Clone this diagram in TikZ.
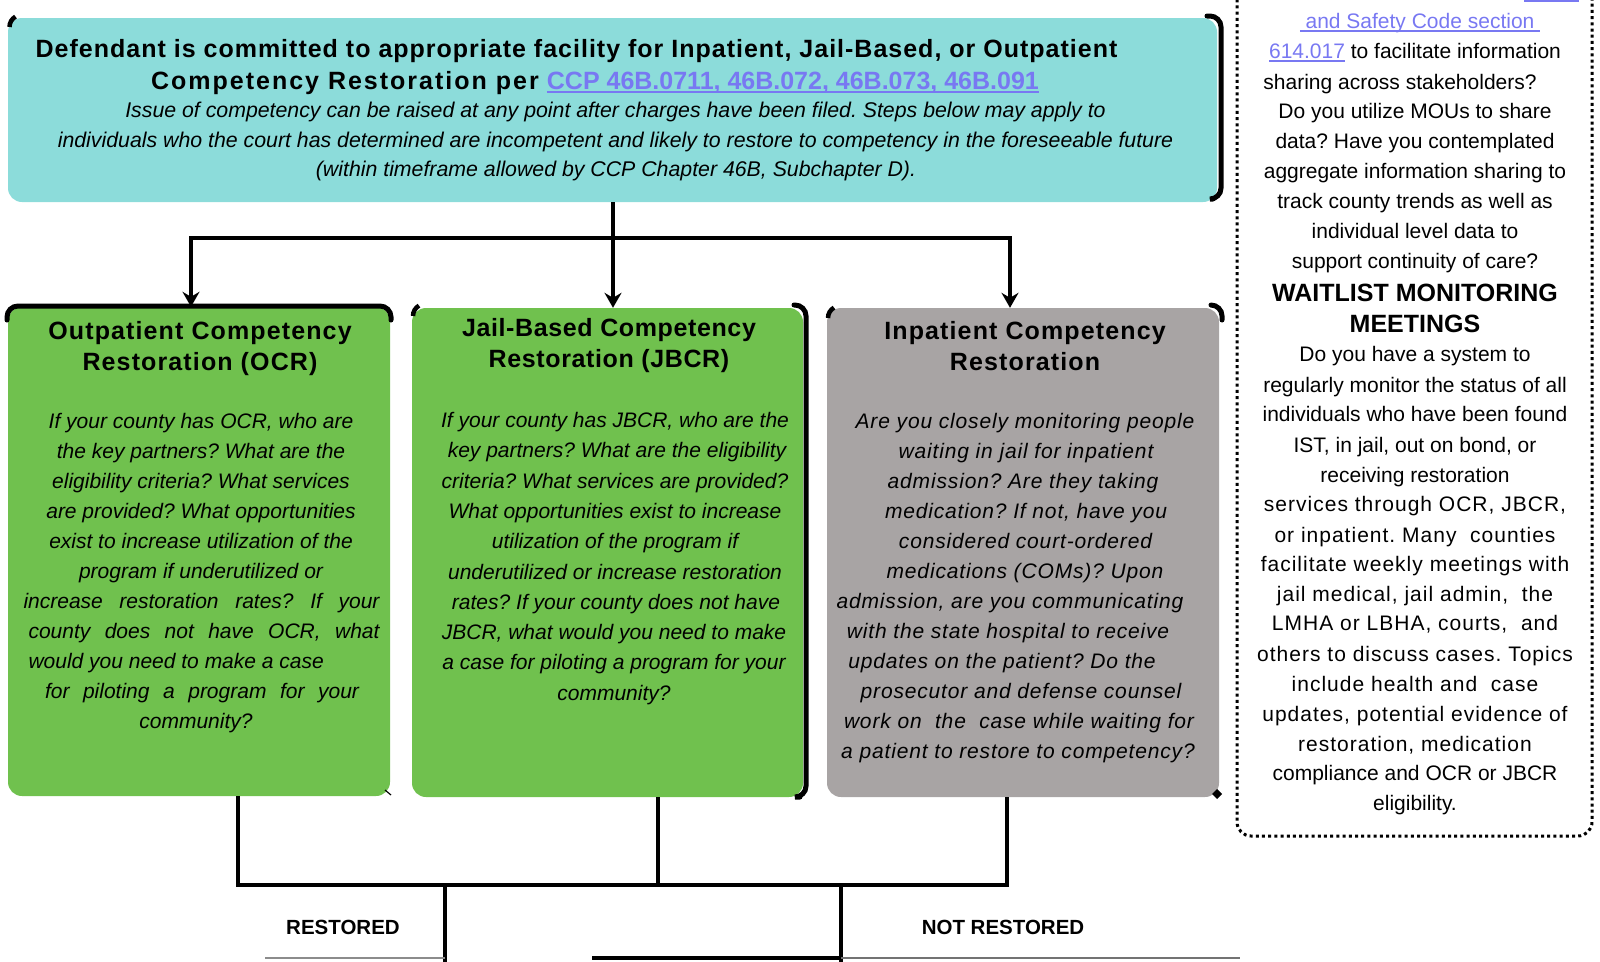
\documentclass[tikz,border=0pt]{standalone}
\usepackage{fontspec}
\setmainfont{Liberation Sans}
\newfontfamily\lsa[LetterSpace=4.5]{Liberation Sans}
\newfontfamily\lsb[LetterSpace=8]{Liberation Sans}
\newfontfamily\lsc[LetterSpace=4]{Liberation Sans}
\newfontfamily\lsd[LetterSpace=4.8]{Liberation Sans}
\newfontfamily\lse[LetterSpace=2.5]{Liberation Sans}
\usetikzlibrary{arrows.meta}
\definecolor{tealbox}{HTML}{8CDCDA}
\definecolor{greenbox}{HTML}{70C14E}
\definecolor{graybox}{HTML}{A8A4A4}
\definecolor{linkcol}{HTML}{7878F2}
\newcommand\lnk[1]{{\color{linkcol}\setbox0=\hbox{#1}\rlap{\rule[-3.6pt]{\wd0}{1.8pt}}\box0}}
\frenchspacing
\begin{document}
\begin{tikzpicture}[x=1pt,y=-1pt,
  box/.style={rectangle,rounded corners=14pt,inner sep=0pt,draw=none},
  conn/.style={line width=4.5pt},
  arr/.style={line width=4.5pt,-{Stealth[length=15pt,width=17pt,inset=5pt]}},
  brk/.style={line width=5pt,line cap=round,rounded corners=11pt},
  hd/.style={font=\lsa\bfseries\fontsize{25}{30}\selectfont,inner sep=0pt,anchor=base},
  itx/.style={font=\itshape\fontsize{21}{30}\selectfont,inner sep=0pt,anchor=base},
  itxs/.style={font=\lsc\itshape\fontsize{21}{30}\selectfont,inner sep=0pt,anchor=base},
  ntx/.style={font=\fontsize{21}{30}\selectfont,inner sep=0pt,anchor=base},
  ntxs/.style={font=\lsd\fontsize{21}{30}\selectfont,inner sep=0pt,anchor=base},
  ntb/.style={font=\bfseries\fontsize{25}{30}\selectfont,inner sep=0pt,anchor=base},
  lbl/.style={font=\bfseries\fontsize{20.5}{24}\selectfont,inner sep=0pt},
  notebox/.style={rectangle,rounded corners=14pt,draw=black,line width=3pt,dash pattern=on 3pt off 3.2pt,inner sep=0pt}
]
\useasboundingbox (0,0) rectangle (1600,961);

% ---------- boxes ----------
\node[box,fill=tealbox,minimum width=1209pt,minimum height=184pt] (top) at (612.5,110) {};
\node[box,fill=greenbox,minimum width=382pt,minimum height=489pt] (ocr) at (199,551.5) {};
\node[box,fill=greenbox,minimum width=391pt,minimum height=489pt] (jbcr) at (607.5,552.5) {};
\node[box,fill=graybox,minimum width=392pt,minimum height=489pt] (inp) at (1023,552.5) {};
\node[notebox,minimum width=355pt,minimum height=880pt] (note) at (1414.5,396) {};

% ---------- black border fragments ----------
\draw[line width=4.5pt] (9.5,27) arc[start angle=180,end angle=240,radius=12];
\draw[brk] (1207,16) -- (1221,16) -- (1221,199) -- (1213,199);
\draw[brk] (7,320) -- (7,306) -- (391,306) -- (391,320);
\draw[line width=1.2pt] (385,790) -- (391,795);
\draw[line width=4.5pt] (413,316) arc[start angle=180,end angle=240,radius=12];
\draw[brk] (794,305) -- (806,305) -- (806,797) -- (800,797);
\draw[line width=4.5pt] (828,318) arc[start angle=180,end angle=240,radius=12];
\draw[brk] (1211,305) -- (1222,305) -- (1222,320);
\fill (1217,789) -- (1222,794) -- (1217,799) -- (1212,794) -- cycle;

% ---------- top connectors ----------
\coordinate (tj) at (613,238);
\coordinate (tl) at (191,238);
\coordinate (tr) at (1010,238);
\draw[arr] (top.south -| tj) -- (tj |- jbcr.north);
\draw[arr] (tj) -| (tl |- ocr.north);
\draw[arr] (tj) -| (tr |- inp.north);

% ---------- bottom connectors ----------
\coordinate (b1) at (238,885);
\coordinate (b2) at (658,885);
\coordinate (b3) at (1007,885);
\coordinate (r1) at (445,885);
\coordinate (r2) at (841,885);
\coordinate (r1e) at (445,975);
\coordinate (r2e) at (841,975);
\draw[conn] (ocr.south -| b1) |- (b3) -- (b3 |- inp.south);
\draw[conn] (jbcr.south -| b2) -- (b2);
\draw[conn] (r1) -- (r1e);
\draw[conn] (r2) -- (r2e);
\coordinate (g1) at (265,958);
\coordinate (g2) at (592,958);
\coordinate (g3) at (1240,958);
\draw[line width=2pt,black!45] (g1) -- (g1 -| r1);
\draw[line width=4pt] (g2) -- (g2 -| r2);
\draw[line width=2.5pt,black!55] (g2 -| r2) -- (g3);
\node[lbl] (restored) at (343,927) {RESTORED};
\node[lbl] (notrestored) at (1003,927) {NOT RESTORED};

% ---------- top box text ----------
\node[hd,font=\lsc\bfseries\fontsize{25}{30}\selectfont] (top-l1) at (576.5,57) {Defendant is committed to appropriate facility for Inpatient, Jail-Based, or Outpatient};
\node[hd] (top-l2) at (595,89) {{\lsb Competency Restoration per} {\normalfont\bfseries\lnk{CCP 46B.0711, 46B.072, 46B.073, 46B.091}}};
\node[itx,font=\itshape\fontsize{21.3}{30}\selectfont] (top-l3) at (615.5,117) {Issue of competency can be raised at any point after charges have been filed. Steps below may apply to};
\node[itx,font=\itshape\fontsize{21.3}{30}\selectfont] (top-l4) at (615.5,147) {individuals who the court has determined are incompetent and likely to restore to competency in the foreseeable future};
\node[itx,font=\itshape\fontsize{21.3}{30}\selectfont] (top-l5) at (616,176) {(within timeframe allowed by CCP Chapter 46B, Subchapter D).};

% ---------- box titles ----------
\node[hd] (ocr-h1) at (200,339) {Outpatient Competency};
\node[hd] (ocr-h2) at (200,370) {Restoration (OCR)};
\node[hd,font=\lse\bfseries\fontsize{25}{30}\selectfont] (jbcr-h1) at (609,336) {Jail-Based Competency};
\node[hd,font=\lse\bfseries\fontsize{25}{30}\selectfont] (jbcr-h2) at (609,367) {Restoration (JBCR)};
\node[hd] (inp-h1) at (1025,339) {Inpatient Competency};
\node[hd] (inp-h2) at (1025,370) {Restoration};

% ---------- OCR body ----------
\node[itx] (ocr-b1) at (201,428) {If your county has OCR, who are};
\node[itx] (ocr-b2) at (201,458) {the key partners? What are the};
\node[itx] (ocr-b3) at (201,488) {eligibility criteria? What services};
\node[itx] (ocr-b4) at (201,518) {are provided? What opportunities};
\node[itx] (ocr-b5) at (201,548) {exist to increase utilization of the};
\node[itx] (ocr-b6) at (201,578) {program if underutilized or};
\node[itx] (ocr-b7) at (201.5,608) {\makebox[356pt][s]{increase restoration rates? If your}};
\node[itx] (ocr-b8) at (204,638) {\makebox[351pt][s]{county does not have OCR, what}};
\node[itx] (ocr-b9) at (204,668) {\makebox[351pt][l]{would you need to make a case}};
\node[itx] (ocr-b10) at (202,698) {\makebox[314pt][s]{for piloting a program for your}};
\node[itx] (ocr-b11) at (196,728) {community?};

% ---------- JBCR body ----------
\node[itx] (jbcr-b1) at (615,427.5) {If your county has JBCR, who are the};
\node[itx] (jbcr-b2) at (617,457.8) {key partners? What are the eligibility};
\node[itx] (jbcr-b3) at (615,488.1) {criteria? What services are provided?};
\node[itx] (jbcr-b4) at (615,518.4) {What opportunities exist to increase};
\node[itx] (jbcr-b5) at (615,548.7) {utilization of the program if};
\node[itx] (jbcr-b6) at (615,579) {underutilized or increase restoration};
\node[itx] (jbcr-b7) at (616,609.3) {rates? If your county does not have};
\node[itx] (jbcr-b8) at (614,639.6) {JBCR, what would you need to make};
\node[itx] (jbcr-b9) at (614,669.9) {a case for piloting a program for your};
\node[itx] (jbcr-b10) at (614,700.2) {community?};

% ---------- Inpatient body ----------
\node[itxs] (inp-b1) at (1025,428) {Are you closely monitoring people};
\node[itxs] (inp-b2) at (1026,458) {waiting in jail for inpatient};
\node[itxs] (inp-b3) at (1023,488) {admission? Are they taking};
\node[itxs] (inp-b4) at (1026,518) {medication? If not, have you};
\node[itxs] (inp-b5) at (1025.5,548) {considered court-ordered};
\node[itxs] (inp-b6) at (1025,578) {medications (COMs)? Upon};
\node[itxs] (inp-b7) at (1010,608) {admission, are you communicating};
\node[itxs] (inp-b8) at (1008,638) {with the state hospital to receive};
\node[itxs] (inp-b9) at (1002,668) {updates on the patient? Do the};
\node[itxs] (inp-b10) at (1021,698) {prosecutor and defense counsel};
\node[itxs] (inp-b11) at (1019,728) {work on~ the~ case while waiting for};
\node[itxs] (inp-b12) at (1018,758) {a patient to restore to competency?};

% ---------- note text ----------
\draw[line width=1.8pt,linkcol] (1524,1.2) -- (1579,1.2);
\node[ntx] (n1) at (1420,28) {\lnk{\ and Safety Code section\ }};
\node[ntx] (n2) at (1415,58.5) {\lnk{614.017} to facilitate information};
\node[ntx] (n3) at (1400,89) {sharing across stakeholders?};
\node[ntx] (n4) at (1415,118.5) {Do you utilize MOUs to share};
\node[ntx] (n5) at (1415,148.5) {data? Have you contemplated};
\node[ntx] (n6) at (1415,178.5) {aggregate information sharing to};
\node[ntx] (n7) at (1415,208.5) {track county trends as well as};
\node[ntx] (n8) at (1415,238.5) {individual level data to};
\node[ntx] (n9) at (1415,268.5) {support continuity of care?};
\node[ntb] (n10) at (1415,301) {WAITLIST MONITORING};
\node[ntb] (n11) at (1415,332) {MEETINGS};
\node[ntx] (n12) at (1415,361.5) {Do you have a system to};
\node[ntx] (n13) at (1415,392.5) {regularly monitor the status of all};
\node[ntx] (n14) at (1415,421.5) {individuals who have been found};
\node[ntx] (n15) at (1415,452.5) {IST, in jail, out on bond, or};
\node[ntx] (n16) at (1415,482) {receiving restoration};
\node[ntxs] (n17) at (1415,511.5) {services through OCR, JBCR,};
\node[ntxs] (n18) at (1415,542.5) {or inpatient. Many~ counties};
\node[ntxs] (n19) at (1415,571.5) {facilitate weekly meetings with};
\node[ntxs] (n20) at (1415,601.5) {jail medical, jail admin,~ the};
\node[ntxs] (n21) at (1415,630.5) {LMHA or LBHA, courts,~ and};
\node[ntxs] (n22) at (1415,661.5) {others to discuss cases. Topics};
\node[ntxs] (n23) at (1415,691.5) {include health and~ case};
\node[ntxs] (n24) at (1415,721.5) {updates, potential evidence of};
\node[ntxs] (n25) at (1415,751.5) {restoration, medication};
\node[ntx] (n26) at (1415,780.5) {compliance and OCR or JBCR};
\node[ntx] (n27) at (1415,810.5) {eligibility.};
\end{tikzpicture}
\end{document}
